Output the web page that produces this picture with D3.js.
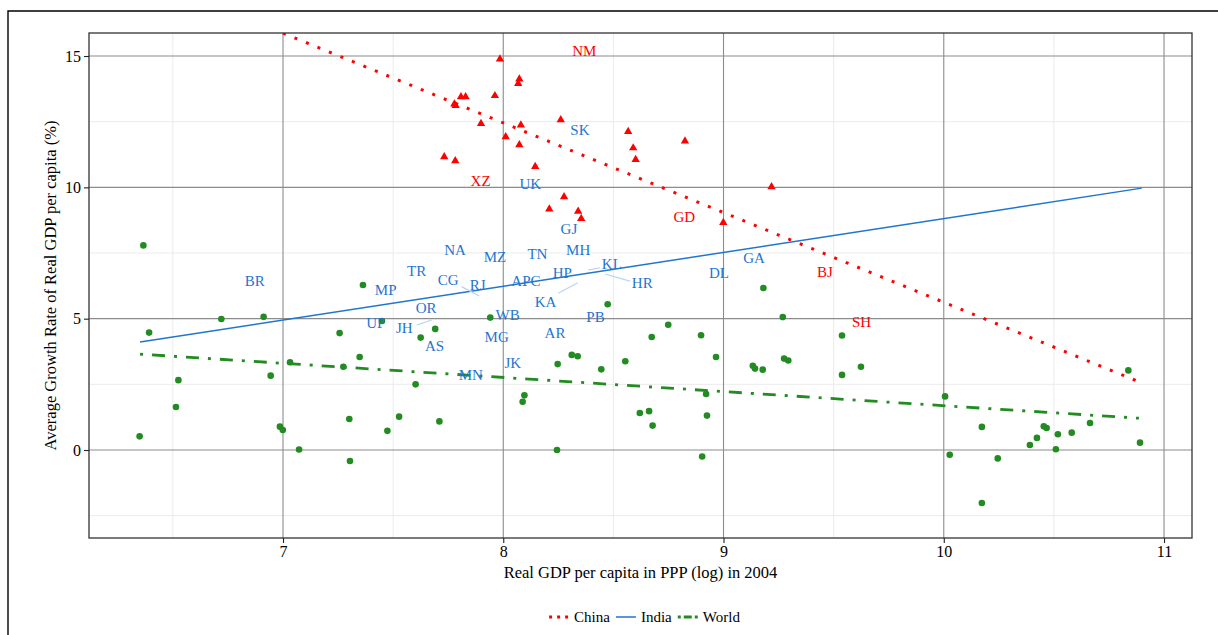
<!DOCTYPE html>
<html><head><meta charset="utf-8">
<script src="https://cdn.jsdelivr.net/npm/d3@7"></script>
<style>body{margin:0;background:#fff} svg{display:block}</style>
</head><body><svg id="c" width="1218" height="635"></svg>
<script>
// ---------- data ----------
const worldX = [6.366,6.392,6.349,6.525,6.514,6.720,6.912,6.944,6.986,6.999,7.032,7.073,7.257,7.274,7.301,7.304,7.348,7.363,7.449,7.474,7.527,7.602,7.625,7.691,7.710,7.941,8.096,8.088,8.247,8.244,8.311,8.338,8.445,8.474,8.554,8.620,8.662,8.674,8.678,8.749,8.898,8.903,8.921,8.925,8.966,9.133,9.143,9.178,9.181,9.269,9.275,9.294,9.538,9.538,9.624,10.006,10.027,10.173,10.173,10.245,10.391,10.423,10.454,10.467,10.518,10.509,10.581,10.664,10.838,10.891];
const worldY = [7.79,4.47,0.52,2.66,1.64,4.99,5.07,2.83,0.89,0.76,3.34,0.02,4.45,3.17,1.18,-0.42,3.54,6.28,4.91,0.73,1.27,2.50,4.28,4.61,1.09,5.04,2.08,1.84,3.27,0.00,3.62,3.57,3.07,5.55,3.38,1.41,1.48,4.30,0.93,4.77,4.37,-0.25,2.13,1.31,3.54,3.21,3.10,3.06,6.17,5.06,3.48,3.41,4.36,2.86,3.17,2.04,-0.18,0.88,-2.02,-0.32,0.19,0.46,0.90,0.84,0.60,0.03,0.66,1.03,3.03,0.28];

const chinaX = [7.985,8.073,8.068,7.808,7.829,7.962,7.778,7.784,7.899,8.080,8.261,8.011,8.073,8.567,8.590,8.601,8.825,7.732,7.782,8.145,8.276,8.209,8.340,8.354,9.218,8.999];
const chinaY = [14.91,14.15,13.98,13.48,13.48,13.52,13.20,13.14,12.46,12.40,12.60,11.95,11.65,12.15,11.53,11.09,11.79,11.19,11.04,10.82,9.67,9.20,9.12,8.84,10.05,8.69];

const chinaLabels = ["NM","XZ","GD","BJ","SH"];
const chinaLabelX = [8.368,7.897,8.822,9.460,9.627];
const chinaLabelY = [15.20,10.24,8.88,6.79,4.88];

const indiaLabels = ["SK","UK","GJ","NA","MZ","TN","MH","TR","CG","RJ","APC","HP","KL","HR","KA","OR","MP","BR","DL","GA","WB","PB","UP","JH","AS","MG","AR","JK","MN"];
const indiaLabelX = [8.348,8.123,8.298,7.781,7.962,8.155,8.340,7.607,7.750,7.884,8.103,8.268,8.493,8.631,8.192,7.650,7.466,6.872,8.979,9.139,8.020,8.419,7.421,7.551,7.688,7.970,8.235,8.043,7.853];
const indiaLabelY = [12.20,10.11,8.43,7.61,7.36,7.48,7.61,6.83,6.49,6.28,6.44,6.73,7.10,6.34,5.65,5.39,6.11,6.44,6.73,7.30,5.14,5.07,4.82,4.63,3.97,4.31,4.44,3.32,2.84];
// label-to-point connector segments (label end, point end)
const indiaSegFromX = [7.811,7.607,8.250,8.386,8.463];
const indiaSegFromY = [6.22,4.76,5.97,6.85,6.70];
const indiaSegToX   = [7.891,7.675,8.338,8.439,8.575];
const indiaSegToY   = [5.86,4.95,6.37,6.94,6.43];

// fitted lines
const fitSeries = ["China","India","World"];
const fitX0 = [7.00,6.351,6.351];
const fitY0 = [15.87,4.11,3.65];
const fitX1 = [10.88,10.899,10.886];
const fitY1 = [2.62,9.97,1.21];

const xTicks = [7,8,9,10,11];
const yTicks = [0,5,10,15];
const xMinor = [6.5,7.5,8.5,9.5,10.5];
const yMinor = [-2.5,2.5,7.5,12.5];

// ---------- drawing ----------
const RED = "#ff0000", BLUE = "#1f75d0", GREEN = "#228b22";
const FONT = "'Liberation Serif', 'DejaVu Serif', serif";
const svg = d3.select("#c");
const P = {l:89, t:33, r:1192, b:538};
const x = d3.scaleLinear().domain([6.1192, 11.127]).range([P.l, P.r]);
const y = d3.scaleLinear().domain([-3.350, 15.876]).range([P.b, P.t]);

// outer frame
svg.append("path").attr("d", `M8,640 L8,11 L1230,11`).attr("fill","none").attr("stroke","#000").attr("stroke-width",1.4);

svg.append("defs").append("clipPath").attr("id","clip")
  .append("rect").attr("x",P.l).attr("y",P.t).attr("width",P.r-P.l).attr("height",P.b-P.t);

const grid = svg.append("g");
grid.selectAll(".xm").data(xMinor).join("line")
  .attr("x1",d=>x(d)).attr("x2",d=>x(d)).attr("y1",P.t).attr("y2",P.b)
  .attr("stroke","#ebebeb").attr("stroke-width",1);
grid.selectAll(".ym").data(yMinor).join("line")
  .attr("y1",d=>y(d)).attr("y2",d=>y(d)).attr("x1",P.l).attr("x2",P.r)
  .attr("stroke","#ebebeb").attr("stroke-width",1);
grid.selectAll(".xM").data(xTicks).join("line")
  .attr("x1",d=>x(d)).attr("x2",d=>x(d)).attr("y1",P.t).attr("y2",P.b)
  .attr("stroke","#8c8c8c").attr("stroke-width",1.1);
grid.selectAll(".yM").data(yTicks).join("line")
  .attr("y1",d=>y(d)).attr("y2",d=>y(d)).attr("x1",P.l).attr("x2",P.r)
  .attr("stroke","#8c8c8c").attr("stroke-width",1.1);

const plot = svg.append("g").attr("clip-path","url(#clip)");

// world points
plot.selectAll(".w").data(worldX.map((v,i)=>({x:v,y:worldY[i]}))).join("circle")
  .attr("cx",d=>x(d.x)).attr("cy",d=>y(d.y)).attr("r",3.3).attr("fill",GREEN);

// china points
const tri = d3.symbol().type(d3.symbolTriangle).size(30);
plot.selectAll(".c").data(chinaX.map((v,i)=>({x:v,y:chinaY[i]}))).join("path")
  .attr("d",tri).attr("transform",d=>`translate(${x(d.x)},${y(d.y)+0.8})`).attr("fill",RED);

// fitted lines
const fitStyle = {
  China:{color:RED, width:3, dash:"3,9.4"},
  India:{color:BLUE, width:1.5, dash:null},
  World:{color:GREEN, width:2.8, dash:"3,9,13,9"}
};
const fits = fitSeries.map((s,i)=>({s, pts:[[fitX0[i],fitY0[i]],[fitX1[i],fitY1[i]]]}));
const lineGen = d3.line().x(d=>x(d[0])).y(d=>y(d[1]));
plot.selectAll(".fit").data(fits).join("path")
  .attr("d",d=>lineGen(d.pts)).attr("fill","none")
  .attr("stroke",d=>fitStyle[d.s].color).attr("stroke-width",d=>fitStyle[d.s].width)
  .attr("stroke-dasharray",d=>fitStyle[d.s].dash);

// india connector segments
plot.selectAll(".seg").data(indiaSegFromX.map((v,i)=>i)).join("line")
  .attr("x1",i=>x(indiaSegFromX[i])).attr("y1",i=>y(indiaSegFromY[i]))
  .attr("x2",i=>x(indiaSegToX[i])).attr("y2",i=>y(indiaSegToY[i]))
  .attr("stroke","#b9d3f1").attr("stroke-width",1.2);

// labels
plot.selectAll(".il").data(indiaLabels).join("text")
  .attr("x",(d,i)=>x(indiaLabelX[i])).attr("y",(d,i)=>y(indiaLabelY[i]))
  .attr("text-anchor","middle").attr("dominant-baseline","central")
  .attr("font-family",FONT).attr("font-size",15).attr("fill",BLUE).text(d=>d);
plot.selectAll(".cl").data(chinaLabels).join("text")
  .attr("x",(d,i)=>x(chinaLabelX[i])).attr("y",(d,i)=>y(chinaLabelY[i]))
  .attr("text-anchor","middle").attr("dominant-baseline","central")
  .attr("font-family",FONT).attr("font-size",15).attr("fill",RED).text(d=>d);

// panel border
svg.append("rect").attr("x",P.l).attr("y",P.t).attr("width",P.r-P.l).attr("height",P.b-P.t)
  .attr("fill","none").attr("stroke","#333").attr("stroke-width",1.3);

// axes
const xAxis = svg.append("g").attr("transform",`translate(0,${P.b})`)
  .call(d3.axisBottom(x).tickValues(xTicks).tickFormat(d3.format("d")).tickSize(5).tickPadding(3));
const yAxis = svg.append("g").attr("transform",`translate(${P.l},0)`)
  .call(d3.axisLeft(y).tickValues(yTicks).tickFormat(d3.format("d")).tickSize(5).tickPadding(3));
[xAxis,yAxis].forEach(a=>{
  a.select(".domain").remove();
  a.selectAll(".tick line").attr("stroke","#222").attr("stroke-width",1.1);
  a.selectAll("text").attr("font-family",FONT).attr("font-size",16).attr("fill","#000");
});

svg.append("text").attr("x",(P.l+P.r)/2).attr("y",578).attr("text-anchor","middle")
  .attr("font-family",FONT).attr("font-size",16.5).attr("fill","#000")
  .text("Real GDP per capita in PPP (log) in 2004");
svg.append("text").attr("transform",`translate(56,${(P.t+P.b)/2}) rotate(-90)`).attr("text-anchor","middle")
  .attr("font-family",FONT).attr("font-size",16.5).attr("fill","#000")
  .text("Average Growth Rate of Real GDP per capita (%)");

// legend
const leg = svg.append("g");
let cx = 0;
const ly = 617;
fitSeries.forEach(s=>{
  const st = fitStyle[s];
  leg.append("line").attr("x1",cx).attr("x2",cx+20).attr("y1",ly).attr("y2",ly)
    .attr("stroke",st.color).attr("stroke-width",st.width)
    .attr("stroke-dasharray", s==="China" ? "3,5" : (s==="World" ? "3,3,8,3" : null));
  const t = leg.append("text").attr("x",cx+25).attr("y",ly).attr("dominant-baseline","central")
    .attr("font-family",FONT).attr("font-size",15).attr("fill","#000").text(s);
  cx += 25 + t.node().getComputedTextLength() + 6;
});
const lw = cx - 6;
leg.attr("transform",`translate(${644.5 - lw/2},0)`);
</script></body></html>
